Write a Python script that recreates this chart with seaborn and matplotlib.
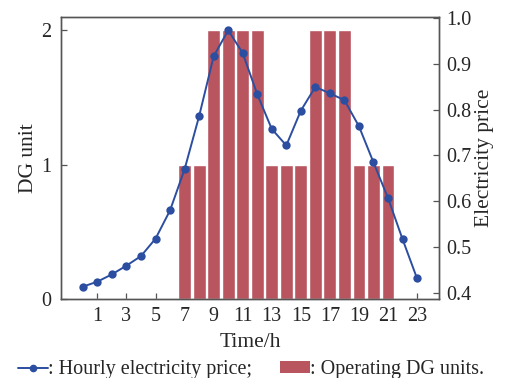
import matplotlib
matplotlib.use("Agg")
import matplotlib.pyplot as plt
import seaborn as sns
import numpy as np
import pandas as pd
from matplotlib.lines import Line2D
from matplotlib.patches import Patch

# Hourly data
hours = list(range(24))
price = [0.413, 0.424, 0.440, 0.459, 0.480, 0.518, 0.580, 0.670, 0.786, 0.917,
         0.974, 0.924, 0.834, 0.758, 0.722, 0.798, 0.850, 0.836, 0.821, 0.764,
         0.685, 0.607, 0.517, 0.431]
dg_units = [0, 0, 0, 0, 0, 0, 0, 1, 1, 2, 2, 2, 2, 1, 1, 1, 2, 2, 2, 1, 1, 1, 0, 0]
xtick_labels = [1, 3, 5, 7, 9, 11, 13, 15, 17, 19, 21, 23]

sns.set_style("ticks")
plt.rcParams["font.family"] = ["Liberation Serif", "DejaVu Serif"]
plt.rcParams["mathtext.fontset"] = "stix"

BLUE = "#2c4ea0"
RED = "#b9555f"
SPINE = "#555555"
TICK_FS = 14.5
LABEL_FS = 15.5

fig = plt.figure(figsize=(5.05, 3.78), dpi=100)
ax = fig.add_axes([0.121, 0.209, 0.748, 0.746])

df = pd.DataFrame({"hour": hours, "units": dg_units, "price": price})

sns.barplot(data=df, x="hour", y="units", native_scale=True, color=RED,
            saturation=1, width=0.88, ax=ax, zorder=1)
ax.set_xlim(-1.5, 24.5)
ax.set_ylim(0, 2.1)
ax.set_yticks([0, 1, 2])
ax.set_xticks(xtick_labels)
ax.set_xticklabels([str(v) for v in xtick_labels])
ax.set_xlabel("Time/h", fontsize=LABEL_FS, labelpad=5)
ax.set_ylabel("DG unit", fontsize=LABEL_FS, labelpad=2)

ax2 = ax.twinx()
sns.lineplot(data=df, x="hour", y="price", color=BLUE, marker="o",
             markersize=6, markeredgewidth=0, linewidth=1.4, ax=ax2)
ax2.set_ylim(0.386, 1.003)
ax2.set_yticks([0.4, 0.5, 0.6, 0.7, 0.8, 0.9, 1.0])
ax2.set_yticklabels(["0.4", "0.5", "0.6", "0.7", "0.8", "0.9", "1.0"])
ax2.set_ylabel("Electricity price", fontsize=LABEL_FS, labelpad=3)
ax2.set_xlabel("")
ax2.set_xlim(-1.5, 24.5)

for a in (ax, ax2):
    for s in a.spines.values():
        s.set_color(SPINE)
        s.set_linewidth(1.0)
    a.tick_params(direction="in", length=4, width=0.9, color=SPINE,
                  labelsize=TICK_FS, pad=5)
ax.tick_params(axis="y", pad=7)
ax.tick_params(axis="x", pad=6)

handles = [
    Line2D([0], [0], color=BLUE, marker="o", markersize=5.5, markeredgewidth=0,
           linewidth=1.4),
    Patch(facecolor=RED, edgecolor="none"),
]
fig.legend(handles, [": Hourly electricity price;", ": Operating DG units."],
           loc="center", bbox_to_anchor=(0.497, 0.022), ncol=2, frameon=False,
           fontsize=TICK_FS, handlelength=1.5, handletextpad=0.0,
           columnspacing=1.4, handleheight=0.55, borderaxespad=0.0)

fig.savefig("out.png", dpi=100)
